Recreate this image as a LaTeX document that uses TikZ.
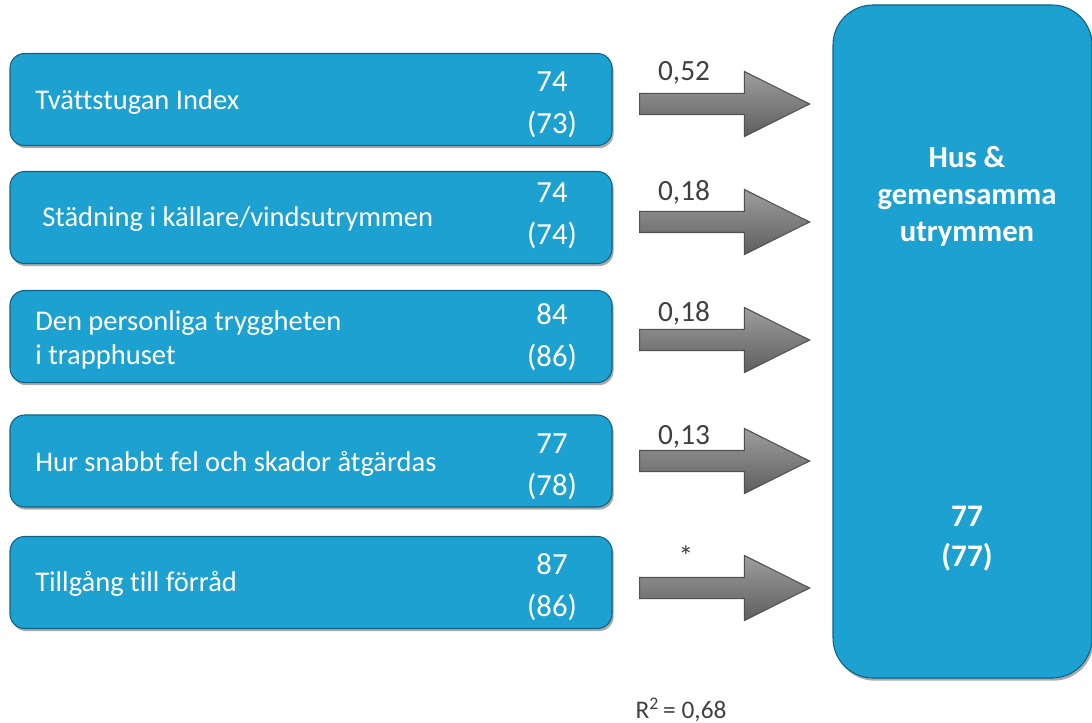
\documentclass[tikz,border=0pt]{standalone}
\usepackage{fontspec}
\setmainfont{Carlito}[Ligatures=NoCommon]
\usetikzlibrary{shapes.arrows,shadows}
\definecolor{boxblue}{RGB}{29,161,209}
\definecolor{boxedge}{RGB}{14,100,135}
\definecolor{arrowgray}{RGB}{125,125,125}
\definecolor{arrowedge}{RGB}{80,80,80}
\definecolor{labelgray}{RGB}{64,64,64}
\tikzset{
  factor/.style={rounded corners=11pt,fill=boxblue,draw=boxedge,line width=0.8pt,
    minimum width=451.5pt,minimum height=69pt,
    drop shadow={shadow xshift=1.2pt,shadow yshift=-2pt,fill=black!75,opacity=0.45}},
  weight/.style={single arrow,draw=arrowedge,line width=0.8pt,
    top color=arrowgray!75!white,bottom color=arrowgray!75!black,
    text height=0pt,text depth=0pt,inner xsep=0pt,inner ysep=7.5pt,
    single arrow head extend=16.5pt,single arrow tip angle=53,
    minimum height=127.5pt}
}
\begin{document}
\begin{tikzpicture}[x=0.75pt,y=-0.75pt]
            \useasboundingbox (0,0) rectangle (1092,723);

            % target box
            \node[rounded corners=30pt,fill=boxblue,draw=boxedge,line width=0.8pt,
                  minimum width=194.25pt,minimum height=504.75pt,
                  drop shadow={shadow xshift=1.2pt,shadow yshift=-2pt,fill=black!75,opacity=0.45}]
                  (hus) at (962.5,341.5) {};
            \node[text=white,align=center,font=\fontsize{23}{27.75}\selectfont\bfseries]
                  (husname) at (967,196) {Hus \&\\gemensamma\\utrymmen};
            \node[text=white,align=center,font=\fontsize{23.5}{30}\selectfont\bfseries]
                  (husval) at (967,539) {77\\(77)};

            % factor boxes
            \begin{scope}[every node/.style={factor}]
                \node (tvatt) at (311,99.5) {};
                \node (stad) at (311,217.5) {};
                \node (trygg) at (311,336.5) {};
                \node (fel) at (311,461) {};
                \node (forrad) at (311,582.5) {};
            \end{scope}
            \begin{scope}[every node/.style={text=white,anchor=base west,inner sep=0pt,
                    font=\fontsize{21.4}{25}\selectfont}]
                \node (tvattname) at (35,110) {Tvättstugan Index};
                \node (stadname) at (42,227) {Städning i källare/vindsutrymmen};
                \node (tryggname) at (35,331) {Den personliga tryggheten};
                \node (tryggname2) at (35,364) {i trapphuset};
                \node (felname) at (35,471) {Hur snabbt fel och skador åtgärdas};
                \node (forradname) at (35,591) {Tillgång till förråd};
            \end{scope}
            \begin{scope}[every node/.style={text=white,align=center,
                    font=\fontsize{23}{31.5}\selectfont}]
                \node (tvattval) at (552,105) {74\\(73)};
                \node (stadval) at (552,216) {74\\(74)};
                \node (tryggval) at (552,337) {84\\(86)};
                \node (felval) at (552,467) {77\\(78)};
                \node (forradval) at (552,587) {87\\(86)};
            \end{scope}

            % effect arrows
            \begin{scope}[every node/.style={weight}]
                \node (w1) at (714,104) {};
                \node (w2) at (714,222) {};
                \node (w3) at (714,340) {};
                \node (w4) at (714,461) {};
                \node (w5) at (714,588) {};
            \end{scope}
            \begin{scope}[every node/.style={text=labelgray,font=\fontsize{22}{26}\selectfont}]
                \node (l1) at (684,73) {0,52};
                \node (l2) at (684,192) {0,18};
                \node (l3) at (684,313) {0,18};
                \node (l4) at (684,437) {0,13};
                \node (l5) at (686,556) {*};
            \end{scope}

            \node[text=labelgray,font=\fontsize{19}{22}\selectfont] (rsq) at (681,710)
                {R\textsuperscript{2}\,= 0,68};
        \end{tikzpicture}
\end{document}
